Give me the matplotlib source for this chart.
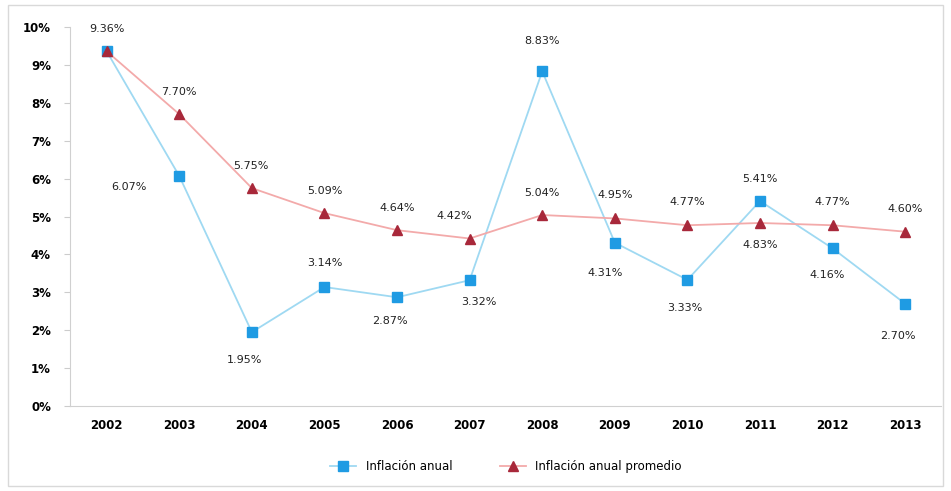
import matplotlib.pyplot as plt
from matplotlib.patches import Rectangle
import numpy as np

# datos
anios = ['2002', '2003', '2004', '2005', '2006', '2007', '2008', '2009', '2010', '2011', '2012', '2013']
inflacion_anual = [9.36, 6.07, 1.95, 3.14, 2.87, 3.32, 8.83, 4.31, 3.33, 5.41, 4.16, 2.70]
inflacion_promedio = [9.36, 7.70, 5.75, 5.09, 4.64, 4.42, 5.04, 4.95, 4.77, 4.83, 4.77, 4.60]

# desplazamiento de etiquetas (puntos)
off_anual = [(0, 16), (-36, -8), (-5, -20), (0, 17), (-5, -17), (7, -16), (0, 22), (-7, -22),
             (-2, -20), (0, 16), (-4, -19), (-5, -23)]
off_prom = [None, (0, 16), (-1, 16), (0, 16), (0, 16), (-11, 16), (0, 16), (0, 17),
            (0, 17), (0, -16), (0, 17), (0, 16)]

azul_linea = '#9fd9f2'
azul = '#1f9be3'
rojo_linea = '#f3aaaa'
rojo = '#a8283a'

fig = plt.figure(figsize=(9.51, 4.91), dpi=100)
ax = fig.add_axes([0.074, 0.173, 0.916, 0.772])
x = np.arange(len(anios))

ax.plot(x, inflacion_anual, color=azul_linea, lw=1.3, marker='s', ms=7,
        mfc=azul, mec=azul, label='Inflación anual', zorder=3)
ax.plot(x, inflacion_promedio, color=rojo_linea, lw=1.3, marker='^', ms=7,
        mfc=rojo, mec=rojo, label='Inflación anual promedio', zorder=4)

for i, v in enumerate(inflacion_anual):
    ax.annotate('%.2f%%' % v, (x[i], v), xytext=off_anual[i], textcoords='offset points',
                ha='center', va='center', fontsize=8, color='#222222')
for i, v in enumerate(inflacion_promedio):
    if off_prom[i] is None:
        continue
    ax.annotate('%.2f%%' % v, (x[i], v), xytext=off_prom[i], textcoords='offset points',
                ha='center', va='center', fontsize=8, color='#222222')

ax.set_xlim(-0.5, len(anios) - 0.5)
ax.set_ylim(0, 10)
ax.set_yticks(range(0, 11))
ax.set_yticklabels(['%d%%' % t for t in range(0, 11)], fontweight='bold', fontsize=8.5)
ax.set_xticks(x)
ax.set_xticklabels(anios, fontweight='bold', fontsize=8.5)
ax.tick_params(axis='y', length=4, color='#cccccc', pad=10)
ax.tick_params(axis='x', length=0, pad=9)
for s in ['top', 'right']:
    ax.spines[s].set_visible(False)
ax.spines['left'].set_color('#d0d0d0')
ax.spines['bottom'].set_color('#d0d0d0')

ax.legend(loc='upper center', bbox_to_anchor=(0.5, -0.115), ncol=2, frameon=False,
          fontsize=8.5, handlelength=2.2, columnspacing=4)

fig.patches.append(Rectangle((0.008, 0.01), 0.984, 0.98, transform=fig.transFigure,
                             fill=False, ec='#d9d9d9', lw=1))

plt.savefig('out.png', dpi=100)
